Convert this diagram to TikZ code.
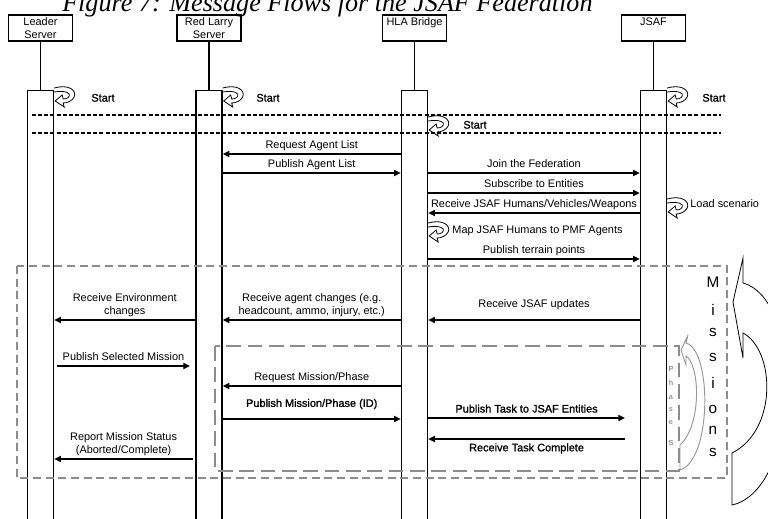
\documentclass[tikz,border=0pt]{standalone}
\usepackage{fontspec}
\setmainfont{Liberation Sans}
\newfontfamily\captionfont{Liberation Serif}
\newfontfamily\heavyfont[FakeBold=1.2]{Liberation Sans}
\usetikzlibrary{arrows.meta,positioning}

\definecolor{framegray}{RGB}{140,140,140}
\definecolor{phasegray}{RGB}{150,150,150}
\newcommand\msgsize{\fontsize{8.2}{9.75}\selectfont}

\tikzset{
  actor/.style={draw, line width=1pt, minimum width=48pt, minimum height=19.5pt,
    align=center, inner sep=1pt, font=\msgsize},
  bar/.style={draw, line width=1pt, minimum width=19.5pt, minimum height=330pt,
    anchor=north, inner sep=0pt},
  life/.style={line width=1pt},
  msg/.style={line width=1.4pt, -{Triangle[length=5pt,width=4.5pt]}},
  lbl/.style={font=\msgsize, inner sep=1.6pt, text depth=1.8pt},
  lbltwo/.style={font=\msgsize, inner sep=1.6pt, align=center},
  sep/.style={line width=0.8pt, dash pattern=on 3pt off 1.6pt},
  missionframe/.style={draw=framegray, line width=2pt, dash pattern=on 6pt off 3.5pt},
  phaseframe/.style={draw=framegray, line width=2.2pt, dash pattern=on 11pt off 5pt},
  loopline/.style={line width=0.6pt},
  pics/selfloop/.style={code={
    \draw[loopline] (0,0) .. controls (14,-4) and (23,2) .. (20,9)
      .. controls (18,13) and (13,15) .. (9,15) -- (10,19) -- (1,13)
      -- (8,7) -- (9,11) .. controls (13,11) and (16,9) .. (15,6)
      .. controls (13,3) and (6,3) .. (0,4);
  }},
}

\begin{document}
\begin{tikzpicture}[x=0.75pt, y=-0.75pt]
\useasboundingbox (0,0) rectangle (768,518);
\clip (0,0) rectangle (768,518);

% Caption (cut at the top)
\node[anchor=base west, inner sep=0pt, font=\captionfont\itshape\fontsize{19.6}{22}\selectfont] (title) at (62,11.5)
  {Figure 7: Message Flows for the JSAF Federation};

% Participants
\node[actor] (leader) at (40.5,28) {Leader\\Server};
\node[actor] (larry) at (209,28) {Red Larry\\Server};
\node[actor] (hla) at (414.5,28) {HLA Bridge\\~};
\node[actor] (jsaf) at (653.5,28) {JSAF\\~};

% Activation bars and lifelines
\node[bar] (leaderbar) at (40.5,90) {};
\node[bar] (larrybar) at (209,90) {};
\node[bar] (hlabar) at (414.5,90) {};
\node[bar] (jsafbar) at (653.5,90) {};
\draw[life] (leader) -- (leaderbar);
\draw[life] (larry) -- (larrybar);
\draw[life] (hla) -- (hlabar);
\draw[life] (jsaf) -- (jsafbar);

% Start
\draw[sep] (32,115) -- (721,115);
\draw[sep] (32,133) -- (721,133);
\pic at (leaderbar.east |- 0,88) {selfloop};
\pic at (larrybar.east |- 0,88) {selfloop};
\pic at (jsafbar.east |- 0,88) {selfloop};
\pic at (hlabar.east |- 0,117) {selfloop};
\node[lbl, anchor=west, font=\msgsize\heavyfont] (leaderstart) at (89,99) {Start};
\node[lbl, anchor=west, font=\msgsize\heavyfont] (larrystart) at (254,99) {Start};
\node[lbl, anchor=west, font=\msgsize\heavyfont] (jsafstart) at (700,99) {Start};
\node[lbl, anchor=west, font=\msgsize\heavyfont] (hlastart) at (461,126) {Start};

% Set up
\draw[msg] (hlabar.west |- 0,154) -- node[lbl, above] (reqlist) {Request Agent List} (larrybar.east |- 0,154);
\draw[msg] (larrybar.east |- 0,173) -- node[lbl, above] (publist) {Publish Agent List} (hlabar.west |- 0,173);
\draw[msg] (hlabar.east |- 0,173) -- node[lbl, above] (join) {Join the Federation} (jsafbar.west |- 0,173);
\draw[msg] (hlabar.east |- 0,193) -- node[lbl, above] (subscribe) {Subscribe to Entities} (jsafbar.west |- 0,193);
\draw[msg] (jsafbar.west |- 0,213) -- node[lbl, above] (humans) {Receive JSAF Humans/Vehicles/Weapons} (hlabar.east |- 0,213);
\pic at (jsafbar.east |- 0,199) {selfloop};
\node[lbl, anchor=west] (load) at (688,205) {Load scenario};
\pic at (hlabar.east |- 0,223) {selfloop};
\node[lbl, anchor=west] (map) at (450,231) {Map JSAF Humans to PMF Agents};
\draw[msg] (hlabar.east |- 0,259) -- node[lbl, above] (terrain) {Publish terrain points} (jsafbar.west |- 0,259);

% Missions
\draw[msg] (larrybar.west |- 0,320) -- node[lbltwo, above] (envchg) {Receive Environment\\changes} (leaderbar.east |- 0,320);
\draw[msg] (hlabar.west |- 0,320) -- node[lbltwo, above] (agentchg) {Receive agent changes (e.g.\\headcount, ammo, injury, etc.)} (larrybar.east |- 0,320);
\draw[msg] (jsafbar.west |- 0,320) -- node[lbl, above, yshift=5pt] (updates) {Receive JSAF updates} (hlabar.east |- 0,320);
\coordinate (selfrom) at (57,366);
\coordinate (selto) at (190,366);
\draw[msg] (selfrom) -- node[lbl, above] (selmission) {Publish Selected Mission} (selto);
\coordinate (statfrom) at (193,459);
\draw[msg] (statfrom) -- node[lbltwo, above] (status) {Report Mission Status\\(Aborted/Complete)} (leaderbar.east |- 0,459);

% Phases
\draw[msg] (hlabar.west |- 0,386) -- node[lbl, above] (reqphase) {Request Mission/Phase} (larrybar.east |- 0,386);
\draw[msg] (larrybar.east |- 0,419) -- node[lbl, above, yshift=5pt, font=\msgsize\heavyfont] (pubphase) {Publish Mission/Phase (ID)} (hlabar.west |- 0,419);
\coordinate (taskto) at (625,418);
\coordinate (donefrom) at (625,439);
\draw[msg] (hlabar.east |- 0,418) -- node[lbl, above, font=\msgsize\heavyfont] (pubtask) {Publish Task to JSAF Entities} (taskto);
\draw[msg] (donefrom) -- node[lbl, below, yshift=-1pt, font=\msgsize\heavyfont] (taskdone) {Receive Task Complete} (hlabar.east |- 0,439);

% Frames
\draw[missionframe] (17,266) rectangle (727,478);
\draw[phaseframe] (215,346) rectangle (679,471);

\foreach \c/\y in {M/282, i/310, s/332, s/357, i/383, o/409, n/430, s/452}
  \node[font=\fontsize{11.5}{12}\selectfont, inner sep=0pt] (mis-\y) at (713,\y) {\c};
\foreach \c/\y in {P/369, h/383, a/398, s/410, e/423, S/443}
  \node[font=\fontsize{5.5}{6}\selectfont\bfseries, text=phasegray, inner sep=0pt] (pha-\y) at (671,\y) {\c};

% Loop arrows
\draw[line width=0.6pt] (743,258) -- (733,302) -- (743,358) -- (743,333)
  .. controls (775,350) and (778,430) .. (732,453) -- (732,505)
  .. controls (800,490) and (805,300) .. (743,283) -- cycle;
\draw[draw=phasegray, line width=0.7pt] (688,335) -- (681,350) -- (686,365) -- (686,356)
  .. controls (700,365) and (702,425) .. (680,445) -- (680,470)
  .. controls (712,460) and (712,350) .. (686,343) -- cycle;

\end{tikzpicture}
\end{document}
